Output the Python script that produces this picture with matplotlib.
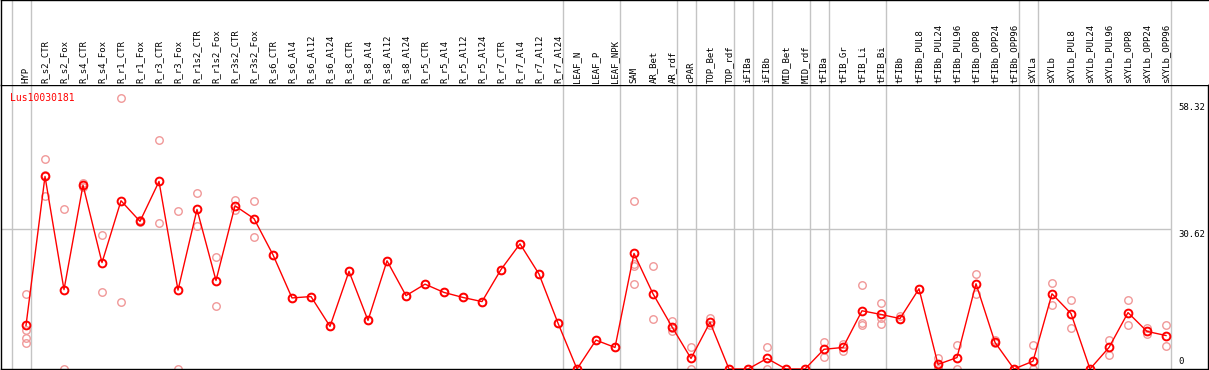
import numpy as np
import matplotlib
matplotlib.use("Agg")
import matplotlib.pyplot as plt
import matplotlib.transforms as mtransforms

gene = "Lus10030181"

samples = [
    "HYP",
    "R_s2_CTR", "R_s2_Fox", "R_s4_CTR", "R_s4_Fox", "R_r1_CTR", "R_r1_Fox",
    "R_r3_CTR", "R_r3_Fox", "R_r1s2_CTR", "R_r1s2_Fox", "R_r3s2_CTR", "R_r3s2_Fox",
    "R_s6_CTR", "R_s6_Al4", "R_s6_Al12", "R_s6_Al24",
    "R_s8_CTR", "R_s8_Al4", "R_s8_Al12", "R_s8_Al24",
    "R_r5_CTR", "R_r5_Al4", "R_r5_Al12", "R_r5_Al24",
    "R_r7_CTR", "R_r7_Al4", "R_r7_Al12", "R_r7_Al24",
    "LEAF_N", "LEAF_P", "LEAF_NPK", "SAM", "AR_Bet", "AR_rdf", "cPAR",
    "TOP_Bet", "TOP_rdf", "iFIBa", "iFIBb", "MID_Bet", "MID_rdf",
    "tFIBa", "tFIB_Gr", "tFIB_Li", "tFIB_Bi", "tFIBb",
    "tFIBb_PUL8", "tFIBb_PUL24", "tFIBb_PUL96", "tFIBb_OPP8", "tFIBb_OPP24", "tFIBb_OPP96",
    "sXYLa", "sXYLb",
    "sXYLb_PUL8", "sXYLb_PUL24", "sXYLb_PUL96", "sXYLb_OPP8", "sXYLb_OPP24", "sXYLb_OPP96",
]

# mean expression per sample
means = [
    9.5,
    42.0, 17.3, 40.1, 23.2, 36.7, 32.2, 40.9, 17.2, 34.8, 19.3, 35.6, 32.8,
    24.9, 15.5, 15.8, 9.3,
    21.3, 10.6, 23.6, 16.0,
    18.5, 16.7, 15.6, 14.7,
    21.7, 27.3, 20.7, 10.0,
    0.0, 6.3, 4.7, 25.2, 16.4, 9.2, 2.3,
    10.2, 0.0, 0.0, 2.3, 0.0, 0.0,
    4.3, 4.7, 12.7, 11.9, 11.0,
    17.5, 1.0, 2.5, 18.6, 5.8, 0.0,
    1.7, 16.4,
    12.1, 0.0, 4.7, 12.3, 8.2, 7.3,
]

# individual replicates per sample
replicates = [
    [16.3, 8.6, 6.8, 5.7],
    [45.9, 37.8, 42.3], [35.0, 0.0], [40.5, 39.7], [29.3, 16.9], [59.0, 14.7], [32.4, 32.0],
    [49.9, 31.8], [34.5, 0.0], [38.3, 31.1], [24.5, 13.8], [36.8, 34.6], [36.7, 28.7],
    [24.9], [15.5], [15.8], [9.3],
    [21.3], [10.6], [23.6], [16.0],
    [18.5], [16.7], [15.6], [14.7],
    [21.7], [27.3], [20.7], [10.0],
    [0.0], [6.3], [4.7], [36.7, 23.0, 22.4, 18.6], [22.4, 10.8], [10.4, 8.2, 9.0], [4.9, 0.0],
    [11.1, 9.5], [0.0], [0.0], [4.7, 0.0], [0.0], [0.0],
    [5.8, 2.7], [5.4, 3.9], [18.3, 10.0, 9.6], [14.3, 11.1, 9.9], [11.5, 11.0],
    [17.5], [2.3, 0.0, 0.7], [5.2, 0.0], [20.8, 16.4], [6.3, 5.6], [0.0],
    [5.2, 0.0], [18.8, 14.0],
    [15.1, 9.0], [0.0], [6.3, 3.1], [15.1, 9.7], [8.9, 7.7], [9.5, 5.1],
]

# group separators come right after these sample indices
group_ends = [-1, 0, 28, 31, 34, 35, 37, 38, 39, 41, 42, 45, 52, 53, 60]

y_ticks = [58.32, 30.62, 0]

W, H = 1209, 370
fig = plt.figure(figsize=(W / 100, H / 100), dpi=100)
fig.patch.set_facecolor("white")

# pixel layout: header 0..85, plot 85..369
ax = fig.add_axes([1 / W, 1 / H, 1207 / W, 284 / H])
axh = fig.add_axes([1 / W, (H - 85) / H, 1207 / W, 85 / H], sharex=ax)

x = np.arange(len(samples))
ax.set_xlim((1 - 26) / 19, (1208 - 26) / 19)
ax.set_ylim(0, 284 / 4.585)
axh.set_ylim(0, 1)

for a in (ax, axh):
    a.set_xticks([])
    a.set_yticks([])
    for s in a.spines.values():
        s.set_color("black")
        s.set_linewidth(1.0)
axh.spines["right"].set_visible(False)
axh.spines["bottom"].set_visible(False)

gray = "#c4c4c4"
for g in group_ends:
    ax.axvline(g + 0.25, color=gray, lw=1.0, zorder=1)
    axh.axvline(g + 0.25, color=gray, lw=1.0, zorder=1)
ax.axhline(30.62, xmin=0, xmax=(1170 - 1) / 1207, color=gray, lw=1.0, zorder=1)

mono = "DejaVu Sans Mono"

# sample labels in the header
lab_tr = mtransforms.blended_transform_factory(axh.transData, axh.transAxes)
for i, name in enumerate(samples):
    axh.text(i, 2 / 85, name, rotation=90, ha="center", va="bottom",
             fontsize=6.5, family=mono, transform=lab_tr)

# replicates
rx = [i for i, reps in enumerate(replicates) for _ in reps]
ry = [v for reps in replicates for v in reps]
ax.plot(rx, ry, ls="none", marker="o", ms=5.4, mfc="none", mec="#f09898",
        mew=1.0, zorder=2, clip_on=True)

# mean line
ax.plot(x, means, color="red", lw=1.0, marker="o", ms=5.6, mfc="none",
        mec="red", mew=1.4, zorder=3, clip_on=True)

ax.text((10 - 1) / 1207, (369 - 97.7) / 284, gene, color="red", fontsize=7,
        family=mono, ha="left", va="center", transform=ax.transAxes)

yl_tr = mtransforms.blended_transform_factory(ax.transAxes, ax.transData)
for v in y_ticks:
    if v == 0:
        ax.text((1178 - 1) / 1207, 0.6, "0", fontsize=6.5, family=mono,
                ha="left", va="bottom", transform=yl_tr)
    else:
        ax.text((1178 - 1) / 1207, v - 0.3, f"{v:.2f}", fontsize=6.5, family=mono,
                ha="left", va="top", transform=yl_tr)

fig.savefig("out.png", dpi=100)
